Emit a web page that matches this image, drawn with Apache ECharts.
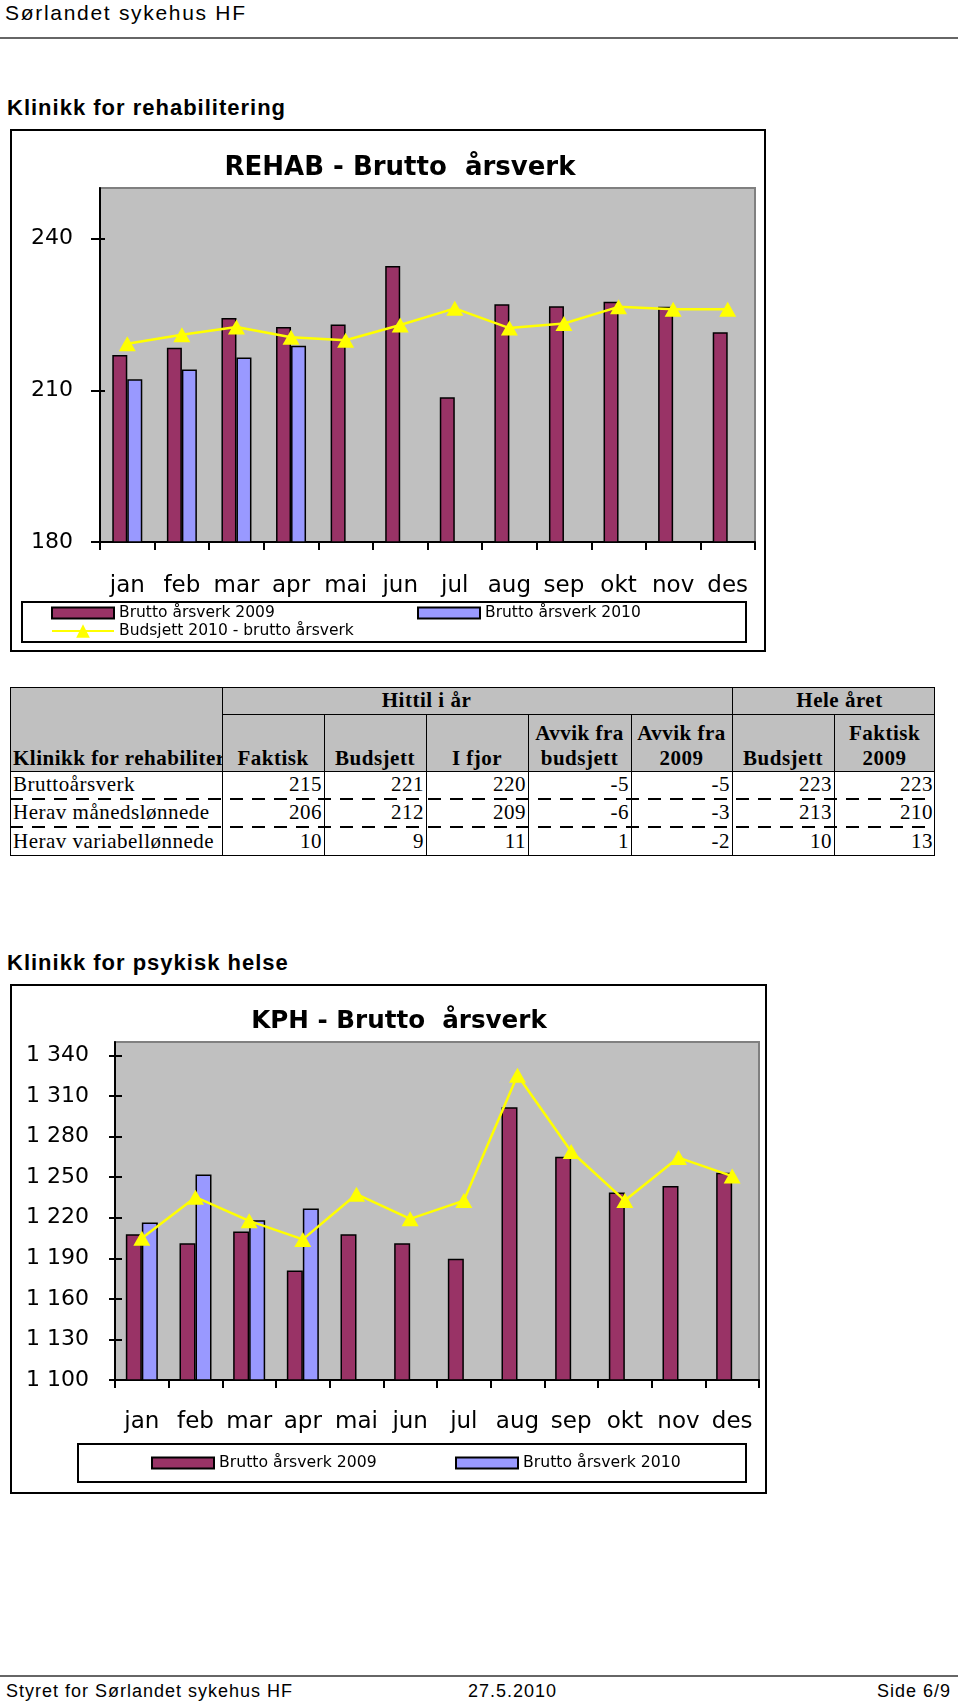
<!DOCTYPE html>
<html><head><meta charset="utf-8">
<script src="https://cdn.jsdelivr.net/npm/echarts@6/dist/echarts.min.js"></script>
<style>
html,body{margin:0;padding:0;background:#fff;}
#page{position:relative;width:960px;height:1706px;overflow:hidden;background:#fff;}
.abs{position:absolute;white-space:nowrap;}
.sans{font-family:'Liberation Sans',Arial,sans-serif;color:#000;}
.serif{font-family:'Liberation Serif','Times New Roman',serif;color:#000;}
.cell{position:absolute;display:flex;box-sizing:border-box;overflow:hidden;white-space:nowrap;font-family:'Liberation Serif','Times New Roman',serif;color:#000;font-size:21px;letter-spacing:0.5px;}
</style></head><body><div id="page">
<div class="abs sans" style="left:5px;top:1px;font-size:21px;letter-spacing:1.7px;">Sørlandet sykehus HF</div>
<div class="abs" style="left:0;top:37px;width:958px;height:2px;background:#666;"></div>
<div class="abs sans" style="left:7px;top:95px;font-size:22px;font-weight:bold;letter-spacing:1px;">Klinikk for rehabilitering</div>
<div id="c1" class="abs" style="left:10px;top:129px;width:756px;height:523px;"></div>
<div id="tbl"></div>
<div class="abs sans" style="left:7px;top:950px;font-size:22px;font-weight:bold;letter-spacing:1px;">Klinikk for psykisk helse</div>
<div id="c2" class="abs" style="left:10px;top:984px;width:757px;height:510px;"></div>
<div class="abs" style="left:0;top:1675px;width:958px;height:2px;background:#666;"></div>
<div class="abs sans" style="left:6px;top:1681px;font-size:18px;letter-spacing:1px;">Styret for Sørlandet sykehus HF</div>
<div class="abs sans" style="left:468px;top:1681px;font-size:18px;letter-spacing:1px;">27.5.2010</div>
<div class="abs sans" style="right:9px;top:1681px;font-size:18px;letter-spacing:1px;">Side 6/9</div>
</div>
<script>
// ---------- data ----------
const months = ['jan','feb','mar','apr','mai','jun','jul','aug','sep','okt','nov','des'];
const seriesNames = ['Brutto årsverk 2009', 'Brutto årsverk 2010', 'Budsjett 2010 - brutto årsverk'];

const rehab2009 = [217.0, 218.4, 224.3, 222.5, 223.0, 234.6, 208.6, 227.0, 226.6, 227.5, 226.5, 221.5];
const rehab2010 = [212.2, 214.1, 216.5, 218.8, null, null, null, null, null, null, null, null];
const rehabBudget = [219.2, 221.0, 222.5, 220.5, 219.9, 222.9, 226.2, 222.3, 223.2, 226.5, 226.0, 226.0];
const rehabTicks = [180, 210, 240];
const rehabTickLabels = ['180', '210', '240'];

const kph2009 = [1207.8, 1201.2, 1209.8, 1180.9, 1207.8, 1201.2, 1189.6, 1301.8, 1265.1, 1238.7, 1243.4, 1253.3];
const kph2010 = [1216.5, 1252.0, 1218.2, 1226.8, null, null, null, null, null, null, null, null];
const kphBudget = [1204.9, 1235.2, 1217.7, 1204.0, 1237.4, 1219.2, 1232.7, 1325.4, 1269.0, 1232.7, 1264.5, 1250.8];
const kphTicks = [1100, 1130, 1160, 1190, 1220, 1250, 1280, 1310, 1340];
const kphTickLabels = ['1 100', '1 130', '1 160', '1 190', '1 220', '1 250', '1 280', '1 310', '1 340'];

const tableTitle = 'Klinikk for rehabilitering';
const tableGroupHeaders = ['Hittil i år', 'Hele året'];
const tableColHeaders = [['Faktisk'], ['Budsjett'], ['I fjor'], ['Avvik fra', 'budsjett'], ['Avvik fra', '2009'], ['Budsjett'], ['Faktisk', '2009']];
const tableRowLabels = ['Bruttoårsverk', 'Herav månedslønnede', 'Herav variabellønnede'];
const tableValues = [
  [215, 221, 220, -5, -5, 223, 223],
  [206, 212, 209, -6, -3, 213, 210],
  [10, 9, 11, 1, -2, 10, 13]
];

// ---------- table (HTML) ----------
(function buildTable() {
  const page = document.getElementById('page');
  const colX = [10, 222, 324, 426, 528, 631, 732, 834, 935];
  const rowY = [687, 714, 771, 798.5, 827, 856];
  function div(x, y, w, h, css, html) {
    const d = document.createElement('div');
    d.style.position = 'absolute';
    d.style.left = x + 'px'; d.style.top = y + 'px';
    d.style.width = w + 'px'; d.style.height = h + 'px';
    if (css) d.style.cssText += css;
    if (html !== undefined) d.innerHTML = html;
    page.appendChild(d);
    return d;
  }
  div(colX[0], rowY[0], colX[8] - colX[0], rowY[2] - rowY[0], 'background:#c0c0c0;');
  const g1 = div(colX[1], rowY[0], colX[5] - colX[1], rowY[1] - rowY[0], '', tableGroupHeaders[0]);
  g1.className = 'cell'; g1.style.justifyContent = 'center'; g1.style.alignItems = 'center'; g1.style.fontWeight = 'bold';
  const g2 = div(colX[6], rowY[0], colX[8] - colX[6] + 12, rowY[1] - rowY[0], '', tableGroupHeaders[1]);
  g2.className = 'cell'; g2.style.justifyContent = 'center'; g2.style.alignItems = 'center'; g2.style.fontWeight = 'bold';
  const t0 = div(colX[0], rowY[1], colX[1] - colX[0], rowY[2] - rowY[1], '', tableTitle);
  t0.className = 'cell'; t0.style.alignItems = 'flex-end'; t0.style.paddingLeft = '3px'; t0.style.fontWeight = 'bold'; t0.style.lineHeight = '25px';
  tableColHeaders.forEach((lines, i) => {
    const c = div(colX[i + 1], rowY[1], colX[i + 2] - colX[i + 1], rowY[2] - rowY[1], '', lines.map(s => '<div>' + s + '</div>').join(''));
    c.className = 'cell'; c.style.flexDirection = 'column'; c.style.justifyContent = 'flex-end'; c.style.alignItems = 'center';
    c.style.fontWeight = 'bold'; c.style.lineHeight = '25px';
  });
  tableRowLabels.forEach((lab, r) => {
    const y = rowY[2 + r], h = rowY[3 + r] - rowY[2 + r];
    const l = div(colX[0], y, colX[1] - colX[0], h, '', lab);
    l.className = 'cell'; l.style.alignItems = 'center'; l.style.paddingLeft = '3px';
    tableValues[r].forEach((v, i) => {
      const c = div(colX[i + 1], y, colX[i + 2] - colX[i + 1], h, '', String(v));
      c.className = 'cell'; c.style.alignItems = 'center'; c.style.justifyContent = 'flex-end'; c.style.paddingRight = '2px';
    });
  });
  div(colX[1], rowY[1], colX[8] - colX[1], 1, 'background:#000;');
  div(colX[0], rowY[2] - 0.5, colX[8] - colX[0], 1.5, 'background:#000;');
  [1, 6].forEach(i => div(colX[i] - 0.5, rowY[0], 1, rowY[5] - rowY[0], 'background:#000;'));
  [2, 3, 4, 5, 7].forEach(i => div(colX[i] - 0.5, rowY[1], 1, rowY[5] - rowY[1], 'background:#000;'));
  [3, 4].forEach(r => div(colX[0], rowY[r] - 1, colX[8] - colX[0], 2,
    'background:repeating-linear-gradient(to right,#000 0 13px,transparent 13px 22px);'));
  div(colX[0], rowY[0], colX[8] - colX[0], rowY[5] - rowY[0], 'border:1.5px solid #000;box-sizing:border-box;');
})();

// ---------- charts ----------
const FONT = 'DejaVu Sans';
function makeChart(el, cfg) {
  const chart = echarts.init(document.getElementById(el), null, { renderer: 'canvas' });
  const tickLine = { color: '#000', width: 2 };
  const legends = cfg.legends.map(l => {
    const o = {
      data: [l.name], left: l.left, top: l.top, padding: 0, orient: 'horizontal',
      itemWidth: 62, itemHeight: l.itemHeight, selectedMode: false,
      textStyle: { fontFamily: FONT, fontSize: cfg.legendFont, color: '#000' }
    };
    if (l.rect) o.icon = 'rect';
    return o;
  });
  const series = [
    { name: seriesNames[0], type: 'bar', data: cfg.d2009, barWidth: cfg.barWidth, barGap: '0%',
      itemStyle: { color: '#993366', borderColor: '#000', borderWidth: 1.5 } },
    { name: seriesNames[1], type: 'bar', data: cfg.d2010, barWidth: cfg.barWidth, barGap: '0%',
      itemStyle: { color: '#9999ff', borderColor: '#000', borderWidth: 1.5 } },
    { name: seriesNames[2], type: 'line', data: cfg.budget, symbol: 'triangle', symbolSize: [17, 15],
      lineStyle: { color: '#ffff00', width: 2.5 }, itemStyle: { color: '#ffff00' }, z: 5 }
  ];
  chart.setOption({
    animation: false,
    textStyle: { fontFamily: FONT },
    title: {
      text: cfg.title, left: cfg.titleX, top: cfg.titleY, textAlign: 'center', textVerticalAlign: 'middle', padding: 0,
      textStyle: { fontFamily: FONT, fontSize: cfg.titleSize, fontWeight: 'bold', color: '#000' }
    },
    grid: Object.assign({ show: true, backgroundColor: '#c0c0c0', borderColor: '#808080', borderWidth: 2,
      containLabel: false, outerBoundsMode: 'none' }, cfg.grid),
    xAxis: {
      type: 'category', data: months, boundaryGap: true,
      axisLine: { show: true, lineStyle: { color: '#000', width: 2 } },
      axisTick: { show: true, length: 8, lineStyle: tickLine },
      axisLabel: { color: '#000', fontFamily: FONT, fontSize: 23, margin: cfg.xLabelMargin, interval: 0 },
      splitLine: { show: false }
    },
    yAxis: [
      {
        type: 'value', min: cfg.yMin, max: cfg.yMax, interval: 30,
        axisLine: { show: true, lineStyle: { color: '#000', width: 2 } },
        axisTick: { show: true, length: cfg.yTickOut, lineStyle: tickLine, customValues: cfg.ticks },
        axisLabel: { color: '#000', fontFamily: FONT, fontSize: 22, margin: cfg.yLabelMargin, customValues: cfg.ticks,
          formatter: v => { const i = cfg.ticks.indexOf(v); return i >= 0 ? cfg.tickLabels[i] : ''; } },
        splitLine: { show: false }
      },
      {
        type: 'value', min: cfg.yMin, max: cfg.yMax, interval: 30, position: 'left', offset: 0,
        axisLine: { show: false },
        axisTick: { show: true, inside: true, length: cfg.yTickIn, lineStyle: tickLine, customValues: cfg.ticks },
        axisLabel: { show: false }, splitLine: { show: false }
      }
    ],
    legend: legends,
    series: series,
    graphic: [
      { type: 'rect', silent: true, shape: { x: 1, y: 1, width: cfg.outer[0], height: cfg.outer[1] },
        style: { fill: 'none', stroke: '#000', lineWidth: 2 } },
      { type: 'rect', silent: true, shape: { x: cfg.legendBox[0], y: cfg.legendBox[1], width: cfg.legendBox[2], height: cfg.legendBox[3] },
        style: { fill: 'none', stroke: '#000', lineWidth: 2 } }
    ]
  });
  return chart;
}

makeChart('c1', {
  title: 'REHAB - Brutto  årsverk', titleX: 390, titleY: 39, titleSize: 26,
  grid: { left: 90, top: 59, width: 655, height: 354 },
  yMin: 180, yMax: 250, ticks: rehabTicks, tickLabels: rehabTickLabels,
  yLabelMargin: 27, yTickOut: 9, yTickIn: 5, xLabelMargin: 33,
  d2009: rehab2009, d2010: rehab2010, budget: rehabBudget, barWidth: 15,
  outer: [754, 521], legendBox: [12, 473, 724, 40], legendFont: 15.5,
  legends: [
    { name: seriesNames[0], left: 41, top: 476, itemHeight: 11, rect: true },
    { name: seriesNames[1], left: 407, top: 476, itemHeight: 11, rect: true },
    { name: seriesNames[2], left: 41, top: 494, itemHeight: 17 }
  ]
});

makeChart('c2', {
  title: 'KPH - Brutto  årsverk', titleX: 389, titleY: 38, titleSize: 24.6,
  grid: { left: 105, top: 58, width: 644, height: 338 },
  yMin: 1100, yMax: 1350, ticks: kphTicks, tickLabels: kphTickLabels,
  yLabelMargin: 26, yTickOut: 6, yTickIn: 7, xLabelMargin: 31,
  d2009: kph2009, d2010: kph2010, budget: kphBudget, barWidth: 16,
  outer: [755, 508], legendBox: [68, 460, 668, 38], legendFont: 15.7,
  legends: [
    { name: seriesNames[0], left: 141, top: 471, itemHeight: 11, rect: true },
    { name: seriesNames[1], left: 445, top: 471, itemHeight: 11, rect: true }
  ]
});
</script>
</body></html>
